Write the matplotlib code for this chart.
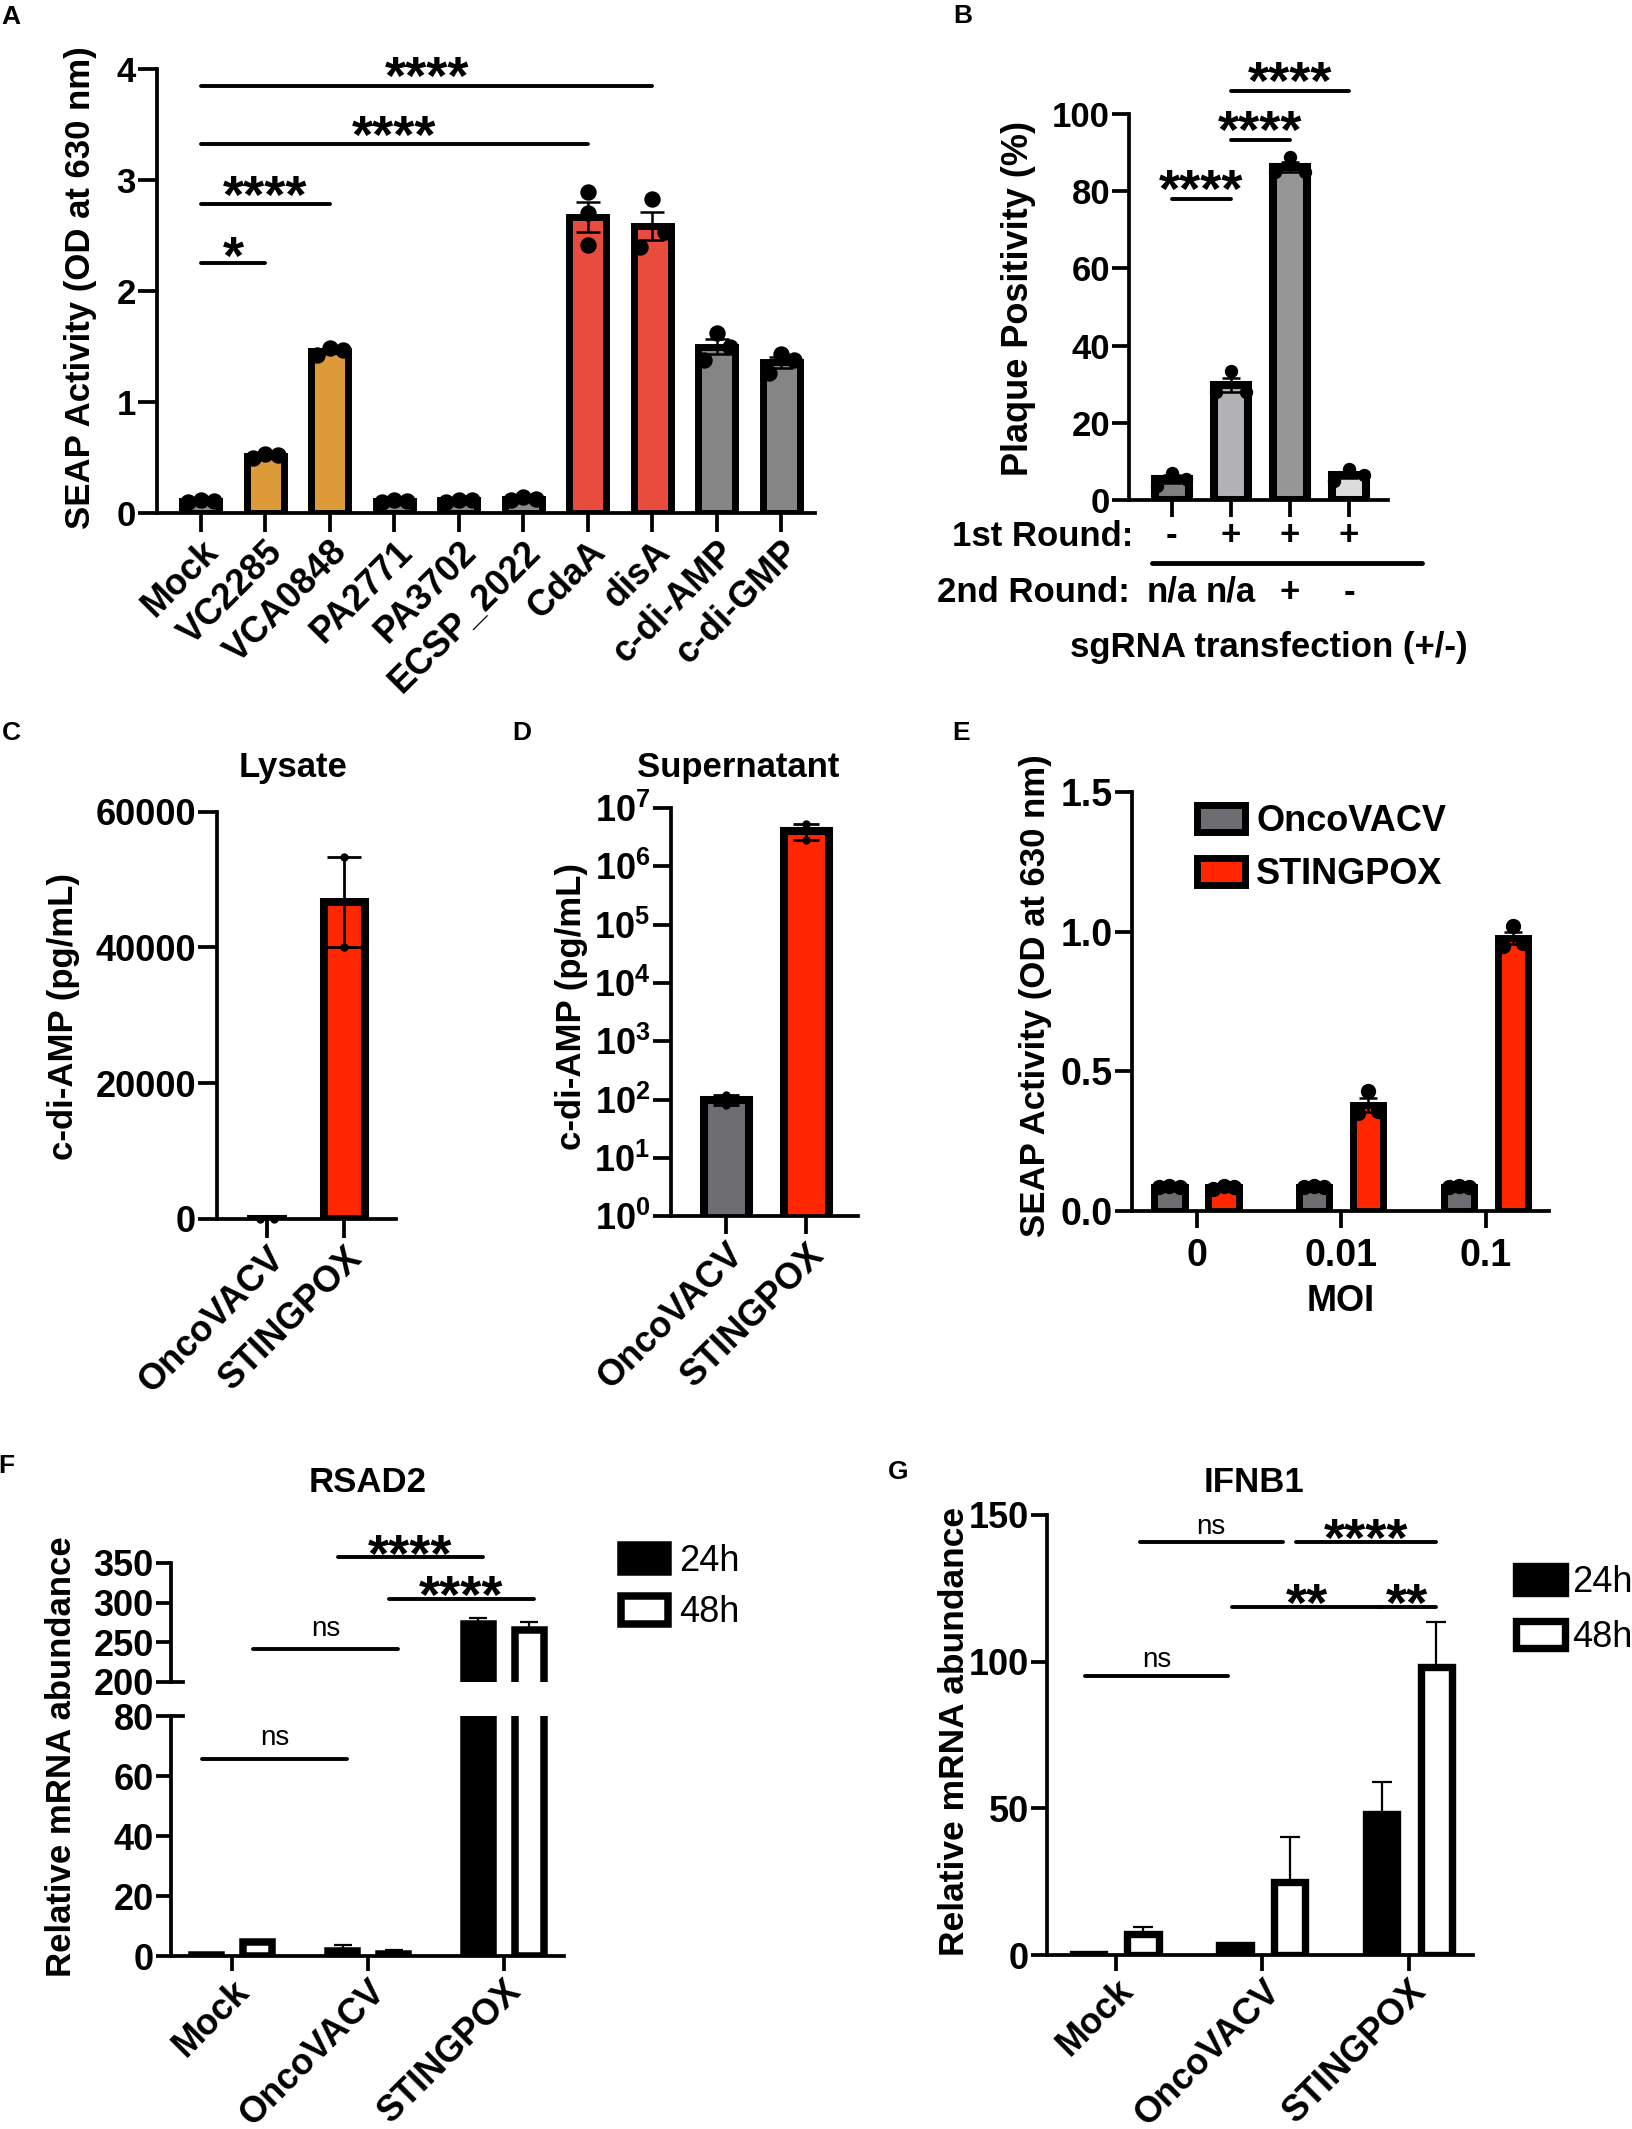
import numpy as np
import matplotlib
matplotlib.use("Agg")
import matplotlib.pyplot as plt
from matplotlib.lines import Line2D
from matplotlib.transforms import blended_transform_factory, offset_copy

plt.rcParams["font.family"] = ["Liberation Sans", "DejaVu Sans"]
plt.rcParams["font.weight"] = "bold"
plt.rcParams["mathtext.fontset"] = "custom"
plt.rcParams["mathtext.rm"] = "Liberation Sans:bold"
plt.rcParams["mathtext.bf"] = "Liberation Sans:bold"
plt.rcParams["mathtext.default"] = "bf"

W, H, DPI = 1632, 2129, 100

# ---------------- data ----------------
# A: SEAP reporter, three wells per construct
a_names = ["Mock", "VC2285", "VCA0848", "PA2771", "PA3702", "ECSP_2022",
           "CdaA", "disA", "c-di-AMP", "c-di-GMP"]
a_points = [
    [0.10, 0.12, 0.11],
    [0.50, 0.53, 0.52],
    [1.42, 1.49, 1.47],
    [0.10, 0.12, 0.11],
    [0.10, 0.12, 0.12],
    [0.12, 0.14, 0.13],
    [2.89, 2.70, 2.41],
    [2.83, 2.53, 2.40],
    [1.62, 1.50, 1.38],
    [1.43, 1.38, 1.26],
]
a_sig = [(0, 1, 2.25, "*"), (0, 2, 2.78, "****"), (0, 6, 3.32, "****"), (0, 7, 3.85, "****")]

# B: plaque positivity
b_points = [[7.1, 5.5, 3.6], [33.5, 28.0, 27.9], [88.9, 85.0, 85.0], [8.0, 6.5, 5.0]]
b_round1 = ["-", "+", "+", "+"]
b_round2 = ["n/a", "n/a", "+", "-"]
b_sig = [(0, 1, 78, "****"), (1, 2, 93.3, "****"), (1, 3, 106, "****")]

# C / D: c-di-AMP ELISA, two replicates
cd_names = ["OncoVACV", "STINGPOX"]
c_points = [[0, 0], [53300, 40000]]
d_points = [[120, 80], [5.4e6, 2.8e6]]

# E: SEAP vs MOI
e_moi = ["0", "0.01", "0.1"]
e_onco = [[0.085, 0.09, 0.085], [0.085, 0.09, 0.085], [0.085, 0.09, 0.085]]
e_sting = [[0.085, 0.09, 0.08], [0.43, 0.36, 0.35], [1.02, 0.95, 0.96]]

# F / G: qPCR, mean and upper error
fg_names = ["Mock", "OncoVACV", "STINGPOX"]
f_24 = [0.5, 1.8, 273]
f_24_err = [0.2, 1.9, 7]
f_48 = [4.7, 0.7, 265]
f_48_err = [0.4, 1.2, 11]
f_sig_low = [((0, 0), (1, 0), 65.7, "ns")]
f_sig_high = [((0, 1), (1, 1), 241, "ns"), ((1, 0), (2, 0), 357, "****"),
              ((1, 1), (2, 1), 305, "****")]

g_24 = [0.4, 3.5, 48]
g_24_err = [0.2, 0.3, 11]
g_48 = [7.3, 24.8, 98.3]
g_48_err = [2.3, 15.4, 15.2]
g_sig = [((0, 0), (1, 0), 95, "ns"), ((0, 1), (1, 1), 140.6, "ns"),
         ((1, 1), (2, 1), 140.6, "****"), ((1, 0), (2, 0), 118.4, "**"),
         ((2, 0), (2, 1), 118.4, "**")]

# ---------------- styles ----------------
GREY_A = "#8a8a8a"
ORANGE = "#dd9a38"
RED_A = "#e84c3d"
DARK_A = "#858585"
a_colors = [GREY_A, ORANGE, ORANGE, GREY_A, GREY_A, GREY_A, RED_A, RED_A, DARK_A, DARK_A]
b_colors = ["#7f7f7f", "#b2b2b6", "#969696", "#dcdcdc"]
GREY = "#6e6e72"
RED = "#ff2600"
SPINE = 2.7
TICK_FS = 26
LAB_FS = 25
STAR_FS = 39

fig = plt.figure(figsize=(W / DPI, H / DPI), dpi=DPI)


def fy(y):
    return 1 - y / H


def px_axes(left, top, right, bottom):
    return fig.add_axes([left / W, 1 - bottom / H, (right - left) / W, (bottom - top) / H])


def style(ax, ticklen, fs=TICK_FS):
    for s in ("top", "right"):
        ax.spines[s].set_visible(False)
    for s in ("left", "bottom"):
        ax.spines[s].set_linewidth(SPINE)
    ax.tick_params(length=ticklen, width=SPINE, labelsize=fs, pad=1.5)
    ax.minorticks_off()


def swarm(ax, vals, diam_px, step):
    ys = [ax.transData.transform((0, v))[1] for v in vals]
    order = sorted(range(len(vals)), key=lambda i: -ys[i])
    clusters = [[order[0]]]
    for i in order[1:]:
        if ys[clusters[-1][-1]] - ys[i] < diam_px:
            clusters[-1].append(i)
        else:
            clusters.append([i])
    pattern = {1: [0], 2: [1, -1], 3: [0, 1, -1]}
    offs = [0.0] * len(vals)
    for c in clusters:
        for i, p in zip(c, pattern[len(c)]):
            offs[i] = p * step
    return offs


def dot_bars(ax, xs, pts, colors, width, lw, ms, cap, step, elw=1.8):
    means = [np.mean(p) for p in pts]
    sems = [np.std(p, ddof=1) / np.sqrt(len(p)) for p in pts]
    bars = ax.bar(xs, means, width=width, color=colors, edgecolor="black", linewidth=lw, zorder=2)
    ax.errorbar(xs, means, yerr=sems, fmt="none", ecolor="black", elinewidth=elw,
                capsize=cap, capthick=elw, zorder=4)
    diam = ms * DPI / 72
    for x, p in zip(xs, pts):
        offs = swarm(ax, p, diam, step)
        ax.plot([x + o for o in offs], p, "o", color="black", ms=ms, zorder=3, clip_on=False)
    return bars


def sig(ax, x0, x1, y, text, center_px, fs=STAR_FS, lw=2.8):
    ax.plot([x0, x1], [y, y], color="black", lw=lw, solid_capstyle="round",
            clip_on=False, zorder=5)
    if text == "ns":
        fs, k, wt = 20, 0.26, "normal"
    else:
        k, wt = 0.56, "bold"
    dy = center_px - k * fs * DPI / 72
    tr = offset_copy(ax.transData, fig=fig, x=0, y=dy, units="dots")
    ax.text((x0 + x1) / 2, y, text, transform=tr, ha="center", va="baseline",
            fontsize=fs, fontweight=wt, clip_on=False)


def ylab(x, y, s, fs=LAB_FS):
    fig.text(x / W, fy(y), s, rotation=90, ha="center", va="center", fontsize=fs)


def letter(x, y, s):
    fig.text(x / W, fy(y), s, ha="center", va="center", fontsize=19, fontweight="bold")


# ---------------- A ----------------
ax = px_axes(157, 69, 815, 513)
xa = np.arange(len(a_names))
ax.set_xlim(-0.682, 9.52)
ax.set_ylim(0, 4)
style(ax, 13.7, 25)
dot_bars(ax, xa, a_points, a_colors, 0.574, 5, 10.8, 8.3, 0.2)
ax.set_yticks([0, 1, 2, 3, 4])
ax.set_xticks(xa, a_names, rotation=45, ha="right", va="top", rotation_mode="anchor", fontsize=26)
for i, j, y, t in a_sig:
    sig(ax, xa[i], xa[j], y, t, 22 if t == "****" else 20)
ylab(81, 288, "SEAP Activity (OD at 630 nm)")
letter(11, 17, "A")

# ---------------- B ----------------
ax = px_axes(1128.8, 113.8, 1387.9, 500)
xb = np.arange(len(b_points))
ax.set_xlim(-0.726, 3.658)
ax.set_ylim(0, 100)
style(ax, 12, 25)
dot_bars(ax, xb, b_points, b_colors, 0.57, 5.8, 8.6, 6.5, 0.25)
ax.set_yticks([0, 20, 40, 60, 80, 100])
ax.set_xticks(xb, [])
for i, j, y, t in b_sig:
    sig(ax, xb[i], xb[j], y, t, 22)
ylab(1018, 298, "Plaque Positivity (%)", 26)
tb = blended_transform_factory(ax.transData, fig.transFigure)
fig.text(1133.4 / W, fy(536), "1st Round:", ha="right", va="center", fontsize=LAB_FS)
fig.text(937.3 / W, fy(592), "2nd Round:", ha="left", va="center", fontsize=LAB_FS)
for x, s1, s2 in zip(xb, b_round1, b_round2):
    ax.text(x, fy(536), s1, transform=tb, ha="center", va="center", fontsize=LAB_FS)
    ax.text(x, fy(592), s2, transform=tb, ha="center", va="center", fontsize=LAB_FS)
fig.add_artist(Line2D([1152 / W, 1422 / W], [fy(562.5)] * 2, color="black", lw=3.5,
                      solid_capstyle="round"))
fig.text(1268.8 / W, fy(647), "sgRNA transfection (+/-)", ha="center", va="center", fontsize=LAB_FS)
letter(963, 16, "B")

# ---------------- C ----------------
ax = px_axes(217, 811.5, 396, 1219)
xc = np.arange(2)
ax.set_xlim(-0.645, 1.665)
ax.set_ylim(0, 60000)
style(ax, 13.7)
dot_bars(ax, xc, c_points, [GREY, RED], 0.526, 5.8, 5, 12.2, 0.09, elw=2)
ax.set_yticks([0, 20000, 40000, 60000], ["0", "20000", "40000", "60000"])
ax.set_xticks(xc, cd_names, rotation=45, ha="right", va="top", rotation_mode="anchor")
ylab(64, 1017, "c-di-AMP (pg/mL)")
fig.text(292.8 / W, fy(767), "Lysate", ha="center", va="center", fontsize=LAB_FS)
letter(11, 733, "C")

# ---------------- D ----------------
ax = px_axes(670.5, 808, 858.2, 1216.4)
ax.set_yscale("log")
ax.set_xlim(-0.694, 1.644)
ax.set_ylim(1, 1e7)
style(ax, 13)
dot_bars(ax, xc, d_points, [GREY, RED], 0.558, 5.8, 5, 9.3, 0.09, elw=2)
ax.set_yticks([10 ** k for k in range(8)], [rf"$10^{{{k}}}$" for k in range(8)])
ax.minorticks_off()
ax.set_xticks(xc, cd_names, rotation=45, ha="right", va="top", rotation_mode="anchor")
ylab(571, 1007, "c-di-AMP (pg/mL)")
fig.text(737.7 / W, fy(767), "Supernatant", ha="center", va="center", fontsize=LAB_FS)
letter(522, 733, "D")

# ---------------- E ----------------
ax = px_axes(1132, 792.3, 1548.9, 1211)
xe = np.arange(len(e_moi))
ax.set_xlim(-0.446, 2.435)
ax.set_ylim(0, 1.5)
style(ax, 12.5, 27)
off = 0.187
h1 = dot_bars(ax, xe - off, e_onco, GREY, 0.209, 5, 10, 6.5, 0.07)
h2 = dot_bars(ax, xe + off, e_sting, RED, 0.209, 5, 10, 6.5, 0.07)
ax.set_yticks([0, 0.5, 1.0, 1.5], ["0.0", "0.5", "1.0", "1.5"])
ax.set_xticks(xe, e_moi)
ax.tick_params(axis="x", pad=7)
ax.set_xlabel("MOI", fontsize=26, fontweight="bold")
ax.xaxis.set_label_coords(0.5, -0.175)
ax.xaxis.label.set_va("top")
ax.legend([h1, h2], ["OncoVACV", "STINGPOX"], loc="upper left",
          bbox_to_anchor=(1196.5 / W, fy(804)), bbox_transform=fig.transFigure,
          frameon=False, fontsize=26, handlelength=1.35, handleheight=0.8,
          handletextpad=0.3, labelspacing=0.5, borderpad=0, borderaxespad=0)
ylab(1035, 996, "SEAP Activity (OD at 630 nm)")
letter(961, 733, "E")


# ---------------- F / G helpers ----------------
def qpcr_bars(ax, xs, v24, e24, v48, e48, off, width, lw, cap):
    b1 = ax.bar(xs - off, v24, width=width, color="black", edgecolor="black", linewidth=lw, zorder=2)
    b2 = ax.bar(xs + off, v48, width=width, color="white", edgecolor="black", linewidth=lw, zorder=2)
    ax.errorbar(xs - off, v24, yerr=[np.zeros(len(e24)), e24], fmt="none", ecolor="black",
                elinewidth=1.6, capsize=cap, capthick=1.6, zorder=1)
    ax.errorbar(xs + off, v48, yerr=[np.zeros(len(e48)), e48], fmt="none", ecolor="black",
                elinewidth=1.6, capsize=cap, capthick=1.6, zorder=1)
    return b1, b2


def bx(xs, ref, off):
    g, s = ref
    return xs[g] + (off if s else -off)


# ---------------- F ----------------
xf = np.arange(3)
off_f = 0.1875
shr_f = 0.035
ax_u = px_axes(171, 1562.9, 563.8, 1681.9)
ax_l = px_axes(171, 1716.2, 563.8, 1956)
for ax in (ax_u, ax_l):
    ax.set_xlim(-0.449, 2.44)
    style(ax, 11)
    hb = qpcr_bars(ax, xf, f_24, f_24_err, f_48, f_48_err, off_f, 0.207, 5.4, 6.7)
ax_u.set_ylim(200, 350)
ax_u.set_yticks([200, 250, 300, 350])
ax_u.spines["bottom"].set_visible(False)
ax_u.tick_params(axis="x", bottom=False, labelbottom=False)
ax_u.axhline(200, xmin=0, xmax=0.031, color="black", lw=SPINE, clip_on=False)
ax_l.set_ylim(0, 80)
ax_l.set_yticks([0, 20, 40, 60, 80])
ax_l.axhline(80, xmin=0, xmax=0.031, color="black", lw=SPINE, clip_on=False)
ax_l.set_xticks(xf, fg_names, rotation=45, ha="right", va="top", rotation_mode="anchor", fontsize=26)
for a, b, y, t in f_sig_low:
    sig(ax_l, bx(xf, a, off_f) - shr_f, bx(xf, b, off_f) + shr_f, y, t, 21)
for a, b, y, t in f_sig_high:
    sig(ax_u, bx(xf, a, off_f) - shr_f, bx(xf, b, off_f) + shr_f, y, t, 21 if t == "ns" else 16)
ax_l.legend(hb, ["24h", "48h"], loc="upper left",
            bbox_to_anchor=(621.4 / W, fy(1544)), bbox_transform=fig.transFigure,
            frameon=False, prop={"size": 26, "weight": "normal"}, handlelength=1.3,
            handleheight=0.8, handletextpad=0.3, labelspacing=0.45, borderpad=0, borderaxespad=0)
ylab(62, 1757, "Relative mRNA abundance")
fig.text(367.3 / W, fy(1482.6), "RSAD2", ha="center", va="center", fontsize=LAB_FS)
letter(6, 1466, "F")

# ---------------- G ----------------
xg = np.arange(3)
off_g = 0.186
shr_g = 0.045
ax = px_axes(1046.7, 1514.7, 1472.7, 1955.2)
ax.set_xlim(-0.47, 2.434)
ax.set_ylim(0, 150)
style(ax, 11.5)
hb = qpcr_bars(ax, xg, g_24, g_24_err, g_48, g_48_err, off_g, 0.214, 5.3, 7.2)
ax.set_yticks([0, 50, 100, 150])
ax.set_xticks(xg, fg_names, rotation=45, ha="right", va="top", rotation_mode="anchor", fontsize=26)
for a, b, y, t in g_sig:
    sig(ax, bx(xg, a, off_g) + (shr_g if a[1] == 1 and t != "ns" else -shr_g * 0.5),
        bx(xg, b, off_g) - (shr_g if b[0] == 1 else 0), y, t, 16 if t == "ns" else 17)
ax.legend(hb, ["24h", "48h"], loc="upper left",
          bbox_to_anchor=(1516 / W, fy(1565)), bbox_transform=fig.transFigure,
          frameon=False, prop={"size": 26, "weight": "normal"}, handlelength=1.35,
          handleheight=0.8, handletextpad=0.2, labelspacing=0.55, borderpad=0, borderaxespad=0)
ylab(954, 1731, "Relative mRNA abundance", 25.5)
fig.text(1253.6 / W, fy(1482.6), "IFNB1", ha="center", va="center", fontsize=LAB_FS)
letter(898, 1472, "G")

fig.savefig("out.png", dpi=DPI, facecolor="white")
